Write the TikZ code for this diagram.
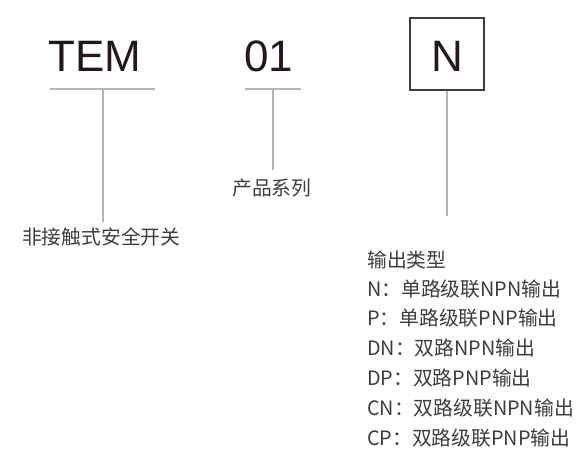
\documentclass[tikz,border=0pt]{standalone}
\usepackage{fontspec}
\newfontfamily\cjk{Noto Sans CJK SC}
\newfontfamily\helv{Liberation Sans}
\definecolor{codeink}{HTML}{231815}
\definecolor{txtgray}{HTML}{3C3C3C}
\definecolor{linegray}{HTML}{B4B4B4}
\tikzset{
  code/.style={font=\helv\fontsize{44}{44}\selectfont, text=codeink, inner sep=0pt, anchor=base},
  lbl/.style={font=\cjk\fontsize{19.8}{19.8}\selectfont, text=txtgray, inner sep=0pt, anchor=west},
  leader/.style={draw=linegray, line width=1.1pt},
  codebox/.style={draw=codeink!85, line width=1.3pt, minimum width=74pt, minimum height=72pt, inner sep=0pt}
}
\begin{document}
\begin{tikzpicture}[x=1pt,y=-1pt]
\useasboundingbox (0,0) rectangle (582,455);
% codes
\node[code] (tem) at (95,71) {TEM};
\node[code] (c01) at (269,71) {01};
\node[codebox] (nbox) at (447,54) {};
\node[code] (nlet) at (447,71) {N};
% underlines and leaders
\coordinate (temL) at (50,89);
\coordinate (temR) at (155,89);
\coordinate (temT) at (103,89);
\coordinate (temB) at (103,222);
\coordinate (c01L) at (245,89);
\coordinate (c01R) at (301,89);
\coordinate (c01T) at (273,89);
\coordinate (c01B) at (273,170);
\coordinate (nB) at (447,216);
\draw[leader] (temL) -- (temR);
\draw[leader] (temT) -- (temB);
\draw[leader] (c01L) -- (c01R);
\draw[leader] (c01T) -- (c01B);
\draw[leader] (nbox.south) -- (nB);
% labels
\node[lbl] (l1) at (22,237) {非接触式安全开关};
\node[lbl] (l2) at (232,188) {产品系列};
\node[lbl] (o0) at (367,260) {输出类型};
\node[lbl] (o1) at (367,289) {N：单路级联NPN输出};
\node[lbl] (o2) at (367,318) {P：单路级联PNP输出};
\node[lbl] (o3) at (367,348) {DN：双路NPN输出};
\node[lbl] (o4) at (367,378) {DP：双路PNP输出};
\node[lbl] (o5) at (367,408) {CN：双路级联NPN输出};
\node[lbl] (o6) at (367,438) {CP：双路级联PNP输出};
\end{tikzpicture}
\end{document}
